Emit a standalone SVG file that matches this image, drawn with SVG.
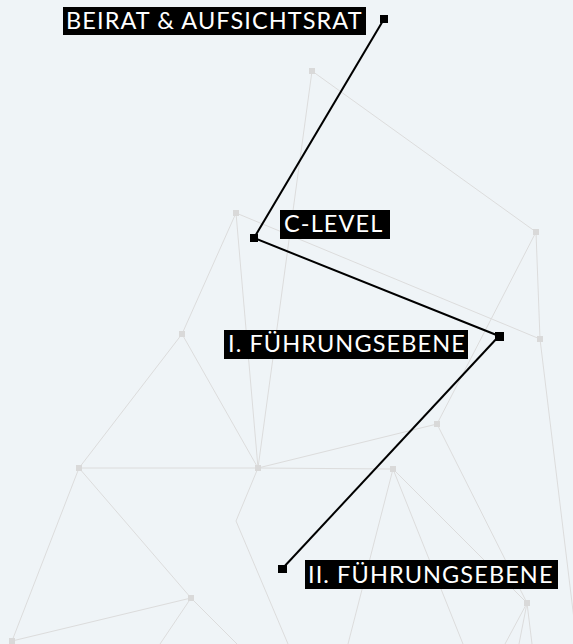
<svg xmlns="http://www.w3.org/2000/svg" width="573" height="644" viewBox="0 0 573 644">
<style>
.bg{fill:#eff4f7}
.net line,.net polyline{stroke:#dcdcdc;stroke-width:1;fill:none}
.net rect{fill:#d9d9d9}
.conn line{stroke:#000;stroke-width:2}
.sq{fill:#000}
.lb{fill:#000}
.tx{fill:#fff;font-family:Lato,"Open Sans","DejaVu Sans",sans-serif;font-size:23.5px;letter-spacing:1.1px}
</style>
<rect class="bg" x="0" y="0" width="573" height="644"/>
<g id="network" class="net">
<line x1="312" y1="71" x2="536" y2="232"/>
<line x1="312" y1="71" x2="258" y2="468"/>
<line x1="236" y1="213" x2="258" y2="468"/>
<line x1="236" y1="213" x2="540" y2="339"/>
<line x1="236" y1="213" x2="182" y2="334"/>
<line x1="536" y1="232" x2="540" y2="339"/>
<line x1="540" y1="339" x2="577" y2="644"/>
<line x1="536" y1="232" x2="437" y2="424"/>
<line x1="182" y1="334" x2="79" y2="468"/>
<line x1="182" y1="334" x2="258" y2="468"/>
<line x1="79" y1="468" x2="258" y2="468"/>
<line x1="79" y1="468" x2="191" y2="598"/>
<line x1="79" y1="468" x2="12" y2="641"/>
<line x1="12" y1="641" x2="191" y2="598"/>
<line x1="191" y1="598" x2="160" y2="644"/>
<line x1="191" y1="598" x2="237" y2="644"/>
<line x1="258" y1="468" x2="437" y2="424"/>
<line x1="258" y1="468" x2="393" y2="469"/>
<polyline points="258,468 236,521 288,644"/>
<line x1="393" y1="469" x2="348" y2="644"/>
<line x1="393" y1="469" x2="463" y2="644"/>
<line x1="393" y1="469" x2="527" y2="603"/>
<line x1="437" y1="424" x2="527" y2="603"/>
<line x1="527" y1="603" x2="505" y2="644"/>
<line x1="527" y1="603" x2="519" y2="644"/>
<line x1="527" y1="603" x2="532" y2="644"/>
<rect x="309" y="68" width="6" height="6"/>
<rect x="533" y="229" width="6" height="6"/>
<rect x="537" y="336" width="6" height="6"/>
<rect x="233" y="210" width="6" height="6"/>
<rect x="179" y="331" width="6" height="6"/>
<rect x="76" y="465" width="6" height="6"/>
<rect x="255" y="465" width="6" height="6"/>
<rect x="434" y="421" width="6" height="6"/>
<rect x="390" y="466" width="6" height="6"/>
<rect x="188" y="595" width="6" height="6"/>
<rect x="9" y="638" width="6" height="6"/>
<rect x="524" y="600" width="6" height="6"/>
</g>
<g id="connectors" class="conn">
<line x1="384" y1="19" x2="254" y2="238"/>
<line x1="254" y1="238" x2="499" y2="336"/>
<line x1="499" y1="336" x2="282" y2="569"/>
</g>
<g id="node-beirat">
<rect class="lb" x="63" y="7" width="303" height="28"/>
<text class="tx" x="66" y="29">BEIRAT &amp; AUFSICHTSRAT</text>
<rect class="sq" x="380" y="15" width="8" height="8"/>
</g>
<g id="node-clevel">
<rect class="lb" x="280" y="210" width="110" height="29"/>
<text class="tx" x="284" y="232">C-LEVEL</text>
<rect class="sq" x="250" y="234" width="8" height="8"/>
</g>
<g id="node-fe1">
<rect class="lb" x="224" y="330" width="244" height="29"/>
<text class="tx" x="228" y="352">I. FÜHRUNGSEBENE</text>
<rect class="sq" x="495" y="332" width="9" height="9"/>
</g>
<g id="node-fe2">
<rect class="lb" x="305" y="560" width="253" height="29"/>
<text class="tx" x="308" y="583">II. FÜHRUNGSEBENE</text>
<rect class="sq" x="278" y="565" width="9" height="8"/>
</g>
</svg>
